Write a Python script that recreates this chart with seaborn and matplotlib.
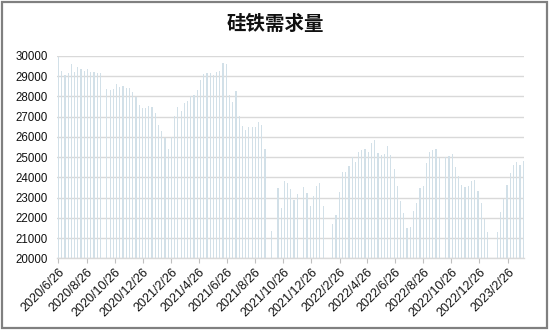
import numpy as np
import pandas as pd
import matplotlib
matplotlib.use("Agg")
import matplotlib.pyplot as plt
import seaborn as sns
from matplotlib.patches import Rectangle

# ---------------- data ----------------
title = "硅铁需求量"
start_date = "2020-06-26"          # first weekly observation
demand = [
    29950, 29260, 29050, 29130, 29600, 29210, 29460, 29330, 29260, 29330,
    29180, 29200, 29130, 29150, None, 28360, 28320, 28350, 28600, 28480,
    28510, 28430, 28400, 28230, 27980, 27570, 27410, 27410, 27540, 27490,
    27190, 26580, 26300, 25920, 25400, 26000, 27030, 27480, 27250, 27690,
    27750, 28020, 28070, 28310, 28800, 29100, 29130, 29130, 29050, 29180,
    29260, 29660, 29590, 28060, 27730, 28270, 27050, 26540, 26340, 26470,
    26480, 26480, 26750, 26570, 25420, None, 21330, None, 23470, 22480,
    23840, 23700, 23400, 22900, 23190, None, 23510, 23230, 22600, 23060,
    23580, 23710, 22600, None, None, 21700, 22150, 23300, 24240, 24240,
    24560, 25020, 24780, 25250, 25360, 25400, 25270, 25700, 25840, 25200,
    25110, 25130, 25530, 25080, 24390, 23550, 22810, 22240, 21510, 21560,
    22330, 22730, 23470, 23590, 24730, 25240, 25330, 25420, 24940, None,
    25020, 25050, 25150, 24490, 24050, 23600, 23520, 23560, 23800, 23850,
    23310, 22740, 21920, 21300, None, None, 21300, 22300, 22930, 23610,
    24210, 24620, 24740, 24590, 24790,
]
tick_labels = ["2020/6/26", "2020/8/26", "2020/10/26", "2020/12/26",
               "2021/2/26", "2021/4/26", "2021/6/26", "2021/8/26",
               "2021/10/26", "2021/12/26", "2022/2/26", "2022/4/26",
               "2022/6/26", "2022/8/26", "2022/10/26", "2022/12/26",
               "2023/2/26"]
y_ticks = list(range(20000, 30001, 1000))

# ---------------- build frame ----------------
start = pd.Timestamp(start_date)
dates = pd.date_range(start, periods=len(demand), freq="7D")
df = pd.DataFrame({"date": dates, "demand": demand})
df["week"] = (df["date"] - start).dt.days / 7.0
df = df.dropna(subset=["demand"])

tick_pos = [(pd.Timestamp(s.replace("/", "-")) - start).days / 7.0 for s in tick_labels]

# ---------------- plot ----------------
sns.set_theme(style="white")
plt.rcParams["font.family"] = ["Liberation Sans", "Noto Sans CJK SC", "DejaVu Sans"]

fig = plt.figure(figsize=(5.5, 3.3), dpi=100)
ax = fig.add_axes([0.104, 0.217, 0.849, 0.614])

sns.barplot(data=df, x="week", y="demand", native_scale=True, width=0.37,
            color="#d2e0e8", saturation=1, edgecolor="none", linewidth=0, ax=ax,
            errorbar=None, zorder=2)
for p in ax.patches:
    p.set_antialiased(False)

ax.set_ylim(20000, 30000)
ax.set_xlim(-0.4, 144.3)
ax.set_yticks(y_ticks)
ax.set_yticklabels([str(v) for v in y_ticks], fontsize=8.3, color="#111111")
ax.set_xticks(tick_pos)
ax.set_xticklabels(tick_labels, rotation=45, ha="right", va="top",
                   rotation_mode="anchor", fontsize=9, color="#111111")
ax.tick_params(axis="y", length=0, pad=7)
ax.tick_params(axis="x", length=3.5, width=0.8, color="#bfbfbf", pad=2, bottom=True)
ax.set_xlabel("")
ax.set_ylabel("")

ax.grid(axis="y", color="#d9d9d9", linewidth=1.0, zorder=0)
ax.set_axisbelow(True)
for side in ["left", "right", "top"]:
    ax.spines[side].set_visible(False)
ax.spines["bottom"].set_color("#d9d9d9")
ax.spines["bottom"].set_linewidth(1.0)

fig.text(0.5, 0.925, title, ha="center", va="center", fontsize=14,
         fontweight="bold", family=["Noto Sans CJK SC", "DejaVu Sans"], color="#111111")

fig.patches.append(Rectangle((0.003, 0.007), 0.992, 0.988, transform=fig.transFigure,
                             fill=False, edgecolor="#808080", linewidth=1.6))

fig.savefig("out.png", dpi=100)
